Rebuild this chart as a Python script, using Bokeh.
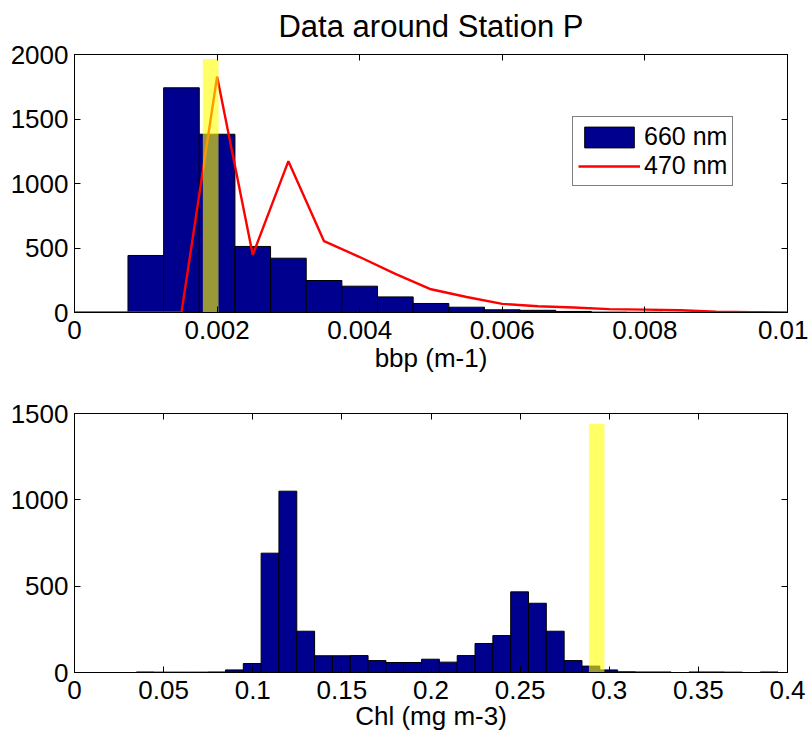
from bokeh.plotting import figure
from bokeh.layouts import column
from bokeh.models import (Range1d, LinearAxis, FixedTicker, NumeralTickFormatter,
                          Legend, LegendItem, ColumnDataSource)
from bokeh.embed import file_html
from bokeh.resources import INLINE

FONT = "Liberation Sans"

# ---------------- data: top panel (bbp) ----------------
bbp_centers = [0.001, 0.0015, 0.002, 0.0025, 0.003, 0.0035, 0.004, 0.0045, 0.005,
               0.0055, 0.006, 0.0065, 0.007, 0.0075, 0.008, 0.0085, 0.009, 0.0095]
bbp_counts_660 = [442, 1742, 1382, 512, 421, 248, 204, 121, 70,
                  41, 21, 17, 8, 3, 2, 1, 1, 0]
bbp_bin_width = 0.0005
bbp_line_x = [0, 0.0005, 0.001, 0.0015, 0.002, 0.0025, 0.003, 0.0035, 0.004, 0.0045,
              0.005, 0.0055, 0.006, 0.0065, 0.007, 0.0075, 0.008, 0.0085, 0.009, 0.0095, 0.01]
bbp_counts_470 = [0, 0, 0, 0, 1829, 447, 1173, 553, 430, 300,
                  180, 120, 67, 49, 39, 26, 22, 17, 6, 2, 1]
bbp_band_x = [0.0018, 0.00202]
bbp_band_top = 1965
bbp_xticks = [0, 0.002, 0.004, 0.006, 0.008, 0.01]
bbp_yticks = [0, 500, 1000, 1500, 2000]
title_text = "Data around Station P"

# ---------------- data: bottom panel (Chl) ----------------
chl_centers = [0.0397, 0.0497, 0.0597, 0.0697, 0.0797, 0.0897, 0.0997, 0.1097, 0.1197,
               0.1297, 0.1397, 0.1497, 0.1597, 0.1697, 0.1797, 0.1897, 0.1997, 0.2097,
               0.2197, 0.2297, 0.2397, 0.2497, 0.2597, 0.2697, 0.2797, 0.2897, 0.2997,
               0.3097, 0.3197, 0.3297, 0.3397, 0.3497, 0.3597, 0.3697, 0.3797, 0.3897]
chl_counts = [3, 2, 2, 2, 3, 15, 52, 691, 1050,
              239, 97, 97, 98, 69, 58, 58, 77, 60,
              98, 168, 214, 467, 401, 239, 69, 37, 15,
              4, 3, 3, 0, 3, 3, 2, 0, 3]
chl_bin_width = 0.01
chl_band_x = [0.2886, 0.2973]
chl_band_top = 1440
chl_xticks = [0, 0.05, 0.1, 0.15, 0.2, 0.25, 0.3, 0.35, 0.4]
chl_yticks = [0, 500, 1000, 1500]

BAR_FILL = "#00008F"
BAND_COLOR = "#FFFF00"
TICK_FS = "26px"


def style_axis(ax, ticks, labels=True, fmt=None):
    ax.ticker = FixedTicker(ticks=ticks)
    if fmt is not None:
        ax.formatter = NumeralTickFormatter(format=fmt)
    ax.major_tick_in = 6
    ax.major_tick_out = 0
    ax.minor_tick_line_color = None
    ax.axis_line_color = "black"
    ax.major_tick_line_color = "black"
    ax.major_label_text_font = FONT
    ax.major_label_text_color = "black"
    ax.major_label_text_font_size = TICK_FS
    ax.axis_label_text_font = FONT
    ax.axis_label_text_font_size = TICK_FS
    ax.axis_label_text_font_style = "normal"
    ax.axis_label_text_color = "black"
    if not labels:
        ax.major_label_text_font_size = "0px"
        ax.major_label_text_color = None
        ax.major_label_standoff = 0


def make_fig(height, xr, yr, xticks, yticks, xfmt, xlabel, border_top, border_bottom,
             label_standoff):
    p = figure(width=808, height=height, x_range=Range1d(*xr), y_range=Range1d(*yr),
               output_backend="svg", toolbar_location=None,
               min_border_left=74, min_border_right=21,
               min_border_top=border_top, min_border_bottom=border_bottom)
    p.grid.visible = False
    p.outline_line_color = "black"
    p.background_fill_color = "white"
    p.border_fill_color = "white"
    style_axis(p.xaxis[0], xticks, fmt=xfmt)
    p.xaxis[0].axis_label = xlabel
    p.xaxis[0].major_label_standoff = 8
    p.xaxis[0].axis_label_standoff = label_standoff
    style_axis(p.yaxis[0], yticks)
    p.yaxis[0].major_label_standoff = 6
    top_ax = LinearAxis()
    style_axis(top_ax, xticks, labels=False)
    p.add_layout(top_ax, "above")
    right_ax = LinearAxis()
    style_axis(right_ax, yticks, labels=False)
    p.add_layout(right_ax, "right")
    return p


# ---------------- top figure ----------------
p1 = make_fig(375, (0, 0.01), (0, 2000), bbp_xticks, bbp_yticks, "0.[000]",
              "bbp (m-1)", 54, 63, 1)
p1.title.text = title_text
p1.title.align = "center"
p1.title.vertical_align = "top"
p1.title.text_font = FONT
p1.title.text_font_size = "31px"
p1.title.text_font_style = "normal"
p1.title.text_color = "black"
p1.title.standoff = 17

src1 = ColumnDataSource(dict(
    left=[c - bbp_bin_width / 2 for c in bbp_centers],
    right=[c + bbp_bin_width / 2 for c in bbp_centers],
    top=bbp_counts_660,
    bottom=[0] * len(bbp_centers)))
bars1 = p1.quad(left="left", right="right", top="top", bottom="bottom", source=src1,
                fill_color=BAR_FILL, line_color="black", line_width=1)
line1 = p1.line(bbp_line_x, bbp_counts_470, line_color="red", line_width=2.4)
p1.quad(left=[bbp_band_x[0]], right=[bbp_band_x[1]], top=[bbp_band_top], bottom=[0],
        fill_color=BAND_COLOR, fill_alpha=0.6, line_color=None)

legend = Legend(items=[LegendItem(label="660 nm", renderers=[bars1]),
                       LegendItem(label="470 nm", renderers=[line1])],
                location=(498, 126))
legend.border_line_color = "black"
legend.border_line_width = 1
legend.background_fill_color = "white"
legend.background_fill_alpha = 1
legend.label_text_font = FONT
legend.label_text_font_size = "25px"
legend.label_text_color = "black"
legend.glyph_width = 62
legend.glyph_height = 26
legend.label_standoff = 4
legend.padding = 5
legend.spacing = 0
legend.margin = 0
p1.add_layout(legend, "center")

# ---------------- bottom figure ----------------
p2 = make_fig(358, (0, 0.4), (0, 1500), chl_xticks, chl_yticks, "0.[00]",
              "Chl (mg m-3)", 38, 61, -1)
src2 = ColumnDataSource(dict(
    left=[c - chl_bin_width / 2 for c in chl_centers],
    right=[c + chl_bin_width / 2 for c in chl_centers],
    top=chl_counts,
    bottom=[0] * len(chl_centers)))
p2.quad(left="left", right="right", top="top", bottom="bottom", source=src2,
        fill_color=BAR_FILL, line_color="black", line_width=1)
p2.quad(left=[chl_band_x[0]], right=[chl_band_x[1]], top=[chl_band_top], bottom=[0],
        fill_color=BAND_COLOR, fill_alpha=0.6, line_color=None)

layout = column(p1, p2, spacing=0)
open("out.html", "w").write(file_html(layout, INLINE))
